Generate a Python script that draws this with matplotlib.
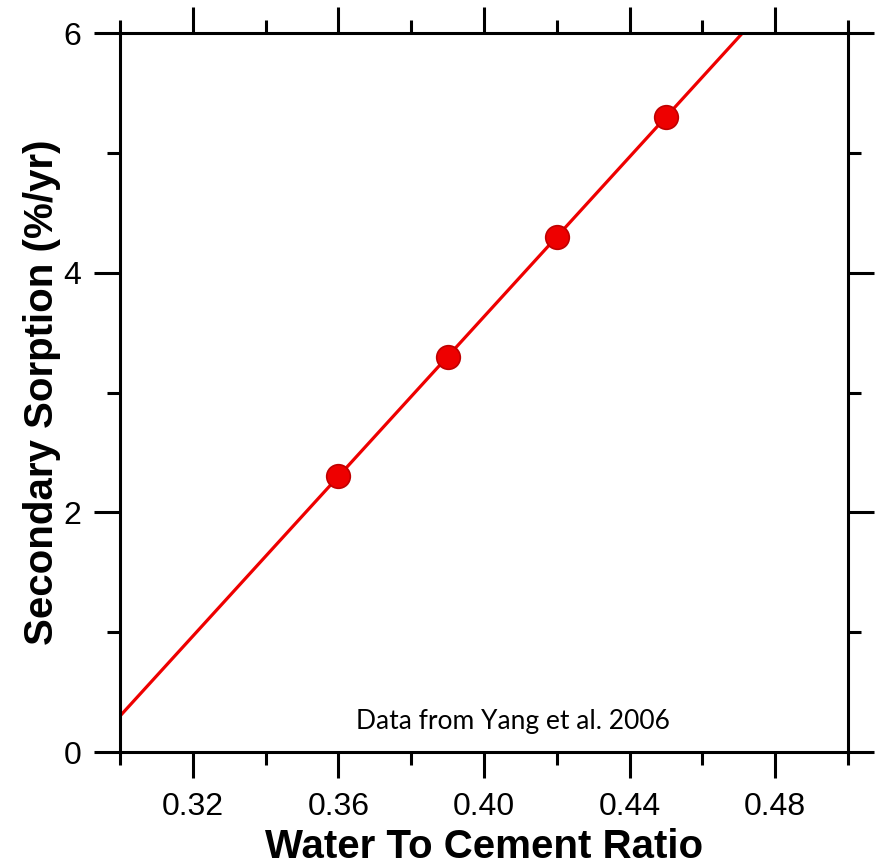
import numpy as np
import matplotlib
matplotlib.use("Agg")
import matplotlib.pyplot as plt
from matplotlib.ticker import MultipleLocator, FixedLocator

# water/cement ratio vs secondary sorption rate
wc_ratio = [0.36, 0.39, 0.42, 0.45]
sorption = [2.3, 3.3, 4.3, 5.3]

x_major = [0.32, 0.36, 0.40, 0.44, 0.48]
x_minor = [0.30, 0.34, 0.38, 0.42, 0.46, 0.50]
x_labels = ["0.32", "0.36", "0.40", "0.44", "0.48"]

plt.rcParams['font.family'] = ['Liberation Sans', 'DejaVu Sans']

fig = plt.figure(figsize=(8.77, 8.67), dpi=100)
ax = fig.add_axes([0.1368, 0.1326, 0.8302, 0.8293])

red = '#ee0000'
# linear fit through the points, drawn across the x range
slope, icpt = np.polyfit(wc_ratio, sorption, 1)
xf = np.array([0.30, 0.50])
ax.plot(xf, slope * xf + icpt, color=red, lw=2.3, zorder=2)
ax.plot(wc_ratio, sorption, 'o', ms=17, color=red, mec='#c00000', mew=1.2, zorder=3)

ax.set_xlim(0.30, 0.50)
ax.set_ylim(0, 6)
ax.xaxis.set_major_locator(FixedLocator(x_major))
ax.xaxis.set_minor_locator(FixedLocator(x_minor))
ax.set_xticklabels(x_labels)
ax.yaxis.set_major_locator(MultipleLocator(2))
ax.yaxis.set_minor_locator(MultipleLocator(1))

for s in ax.spines.values():
    s.set_linewidth(2.2)
ax.tick_params(which='both', direction='out', top=True, right=True, width=2.2,
               labelsize=23, colors='black')
ax.tick_params(which='major', length=19, pad=9)
ax.tick_params(which='minor', length=9.5)
ax.tick_params(axis='x', which='major', pad=10)

ax.set_xlabel('Water To Cement Ratio', fontsize=29, fontweight='bold', labelpad=4)
ax.set_ylabel('Secondary Sorption (%/yr)', fontsize=29, fontweight='bold', labelpad=1.5)

ax.text(0.540, 0.043, 'Data from Yang et al. 2006', transform=ax.transAxes,
        ha='center', va='center', fontsize=19, family=['Lato', 'DejaVu Sans'])

fig.savefig('out.png', dpi=100)
